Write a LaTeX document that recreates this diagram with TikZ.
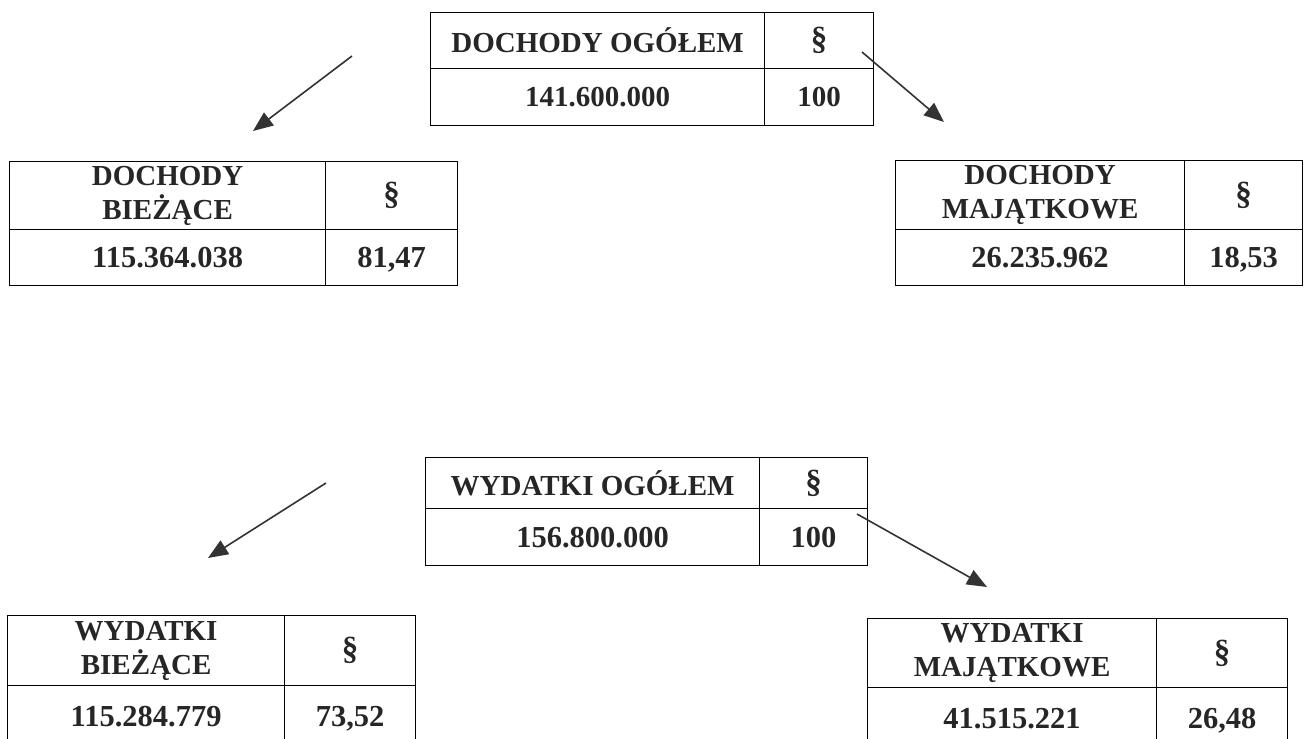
\documentclass[tikz,border=0pt]{standalone}
\usepackage{fontspec}
\setmainfont{Liberation Serif}
\usetikzlibrary{arrows.meta}
\tikzset{
    cell/.style={draw, line width=1.2pt, inner sep=0pt, anchor=north west, align=center,
        font=\fontsize{29}{34}\selectfont\bfseries, text=black!85},
    par/.style={cell, font=\fontsize{33}{34}\selectfont\bfseries},
    num/.style={cell, text height=20pt, text depth=0pt, font=\fontsize{30.5}{34}\selectfont\bfseries},
    numtop/.style={num, text height=19.5pt, font=\fontsize{29}{34}\selectfont\bfseries},
    arrow/.style={-{Triangle[length=20pt, width=16pt]}, line width=1.6pt, black!80}
}
\begin{document}
\begin{tikzpicture}[x=1pt, y=-1pt]
\useasboundingbox (0,0) rectangle (1304,739);
\clip (0,0) rectangle (1304,739);

% Dochody ogolem
\node[cell, minimum width=334pt, minimum height=56pt] (dochOg) at (430,12) {DOCHODY OGÓŁEM};
\node[par, minimum width=109pt, minimum height=56pt] (dochOgPar) at (764,12) {§};
\node[numtop, minimum width=334pt, minimum height=57pt] (dochOgKw) at (430,68) {141.600.000};
\node[numtop, minimum width=109pt, minimum height=57pt] (dochOgPr) at (764,68) {100};

% Dochody biezace
\node[cell, minimum width=316pt, minimum height=68pt] (dochBi) at (9,161) {DOCHODY\\BIEŻĄCE};
\node[par, minimum width=132pt, minimum height=68pt] (dochBiPar) at (325,161) {§};
\node[num, minimum width=316pt, minimum height=56pt] (dochBiKw) at (9,229) {115.364.038};
\node[num, minimum width=132pt, minimum height=56pt] (dochBiPr) at (325,229) {81,47};

% Dochody majatkowe
\node[cell, minimum width=289pt, minimum height=69pt] (dochMa) at (895,160) {DOCHODY\\MAJĄTKOWE};
\node[par, minimum width=118pt, minimum height=69pt] (dochMaPar) at (1184,160) {§};
\node[num, minimum width=289pt, minimum height=56pt] (dochMaKw) at (895,229) {26.235.962};
\node[num, minimum width=118pt, minimum height=56pt] (dochMaPr) at (1184,229) {18,53};

% Wydatki ogolem
\node[cell, minimum width=334pt, minimum height=51pt] (wydOg) at (425,457) {WYDATKI OGÓŁEM};
\node[par, minimum width=108pt, minimum height=51pt] (wydOgPar) at (759,457) {§};
\node[num, minimum width=334pt, minimum height=57pt] (wydOgKw) at (425,508) {156.800.000};
\node[num, minimum width=108pt, minimum height=57pt] (wydOgPr) at (759,508) {100};

% Wydatki biezace
\node[cell, minimum width=277pt, minimum height=70pt] (wydBi) at (7,615) {WYDATKI\\BIEŻĄCE};
\node[par, minimum width=131pt, minimum height=70pt] (wydBiPar) at (284,615) {§};
\node[num, minimum width=277pt, minimum height=62pt] (wydBiKw) at (7,685) {115.284.779};
\node[num, minimum width=131pt, minimum height=62pt] (wydBiPr) at (284,685) {73,52};

% Wydatki majatkowe
\node[cell, minimum width=289pt, minimum height=69pt] (wydMa) at (867,618) {WYDATKI\\MAJĄTKOWE};
\node[par, minimum width=131pt, minimum height=69pt] (wydMaPar) at (1156,618) {§};
\node[num, minimum width=289pt, minimum height=62pt] (wydMaKw) at (867,687) {41.515.221};
\node[num, minimum width=131pt, minimum height=62pt] (wydMaPr) at (1156,687) {26,48};

% Arrows
\coordinate (dochL) at (352,56);
\coordinate (dochLk) at (253,131);
\coordinate (dochP) at (862,52);
\coordinate (dochPk) at (944,122);
\coordinate (wydL) at (326,483);
\coordinate (wydLk) at (208,558);
\coordinate (wydP) at (857,514);
\coordinate (wydPk) at (987,587);
\draw[arrow] (dochL) -- (dochLk);
\draw[arrow] (dochP) -- (dochPk);
\draw[arrow] (wydL) -- (wydLk);
\draw[arrow] (wydP) -- (wydPk);
\end{tikzpicture}
\end{document}
